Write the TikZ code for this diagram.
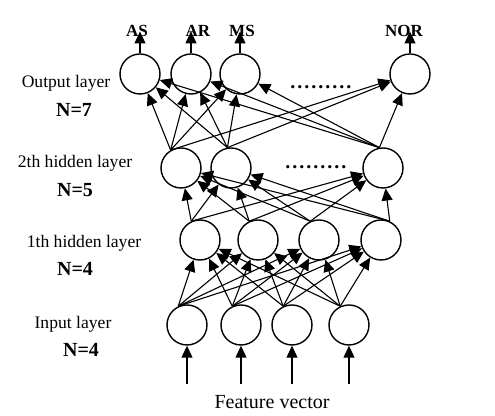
\documentclass[tikz,border=0pt]{standalone}
\usepackage{fontspec}
\setmainfont{Liberation Serif}
\usetikzlibrary{arrows.meta}
\tikzset{
  neuron/.style={circle, draw, line width=0.7pt, minimum size=20pt, inner sep=0pt},
  link/.style={-{Triangle[length=6pt,width=5.5pt]}, line width=0.55pt},
  layertext/.style={font=\fontsize{8.8}{10}\selectfont, anchor=base, inner sep=0pt},
  counttext/.style={font=\fontsize{10}{12}\selectfont\bfseries, anchor=base, inner sep=0pt},
  outtext/.style={font=\fontsize{8.5}{10}\selectfont\bfseries, anchor=base, inner sep=0pt},
  dottext/.style={font=\fontsize{10}{12}\selectfont\bfseries, anchor=base, inner sep=0pt},
}
\newcommand{\dotrow}{.\kern1pt.\kern1pt.\kern1pt.\kern1pt.\kern1pt.\kern1pt.\kern1pt.\kern1pt.}
\begin{document}
\begin{tikzpicture}[x=0.5pt, y=-0.5pt]
    \useasboundingbox (0,0) rectangle (495,416);

    % Input layer
    \node[neuron] (i1) at (187,325) {};
    \node[neuron] (i2) at (241,325) {};
    \node[neuron] (i3) at (292,325) {};
    \node[neuron] (i4) at (349,325) {};
    \node[layertext] (inlab) at (73,329) {Input layer};
    \node[counttext] (inn) at (81,357) {N=4};

    % 1th hidden layer
    \node[neuron] (h1) at (200,240) {};
    \node[neuron] (h2) at (258,240) {};
    \node[neuron] (h3) at (319,240) {};
    \node[neuron] (h4) at (381,240) {};
    \node[layertext] (h1lab) at (84,248) {1th hidden layer};
    \node[counttext] (h1n) at (75,276) {N=4};

    % 2th hidden layer
    \node[neuron] (g1) at (181,168) {};
    \node[neuron] (g2) at (231,168) {};
    \node[neuron] (g3) at (383,168) {};
    \node[dottext] (gdots) at (316,169) {\dotrow};
    \node[layertext] (h2lab) at (75,168) {2th hidden layer};
    \node[counttext] (h2n) at (75,197) {N=5};

    % Output layer
    \node[neuron] (o1) at (140,74) {};
    \node[neuron] (o2) at (191,74) {};
    \node[neuron] (o3) at (240,74) {};
    \node[neuron] (o4) at (410,74) {};
    \node[dottext] (odots) at (321,89) {\dotrow};
    \node[layertext] (olab) at (66,88) {Output layer};
    \node[counttext] (on) at (74,117) {N=7};

    % Output names
    \node[outtext] (as) at (137,37) {AS};
    \node[outtext] (ar) at (198,37) {AR};
    \node[outtext] (ms) at (242,37) {MS};
    \node[outtext] (nor) at (404,37) {NOR};
    \foreach \o/\t in {o1/as, o2/ar, o3/ms, o4/nor}
        \draw[link] (\o.north) -- (\o.north |- \t.center);

    % Feature vector inputs
    \node[layertext, font=\fontsize{10}{12}\selectfont] (feat) at (272,409) {Feature vector};
    \foreach \i/\x in {1/187, 2/241, 3/292, 4/349} {
        \coordinate (f\i) at (\x,384);
        \draw[link] (f\i) -- (i\i.south);
    }

    % Connections between layers
    \foreach \a in {1,...,4}
        \foreach \b in {1,...,4}
            \draw[link] (i\a.115) -- (h\b);
    \foreach \a/\ang in {1/115, 2/115, 3/115, 4/65}
        \foreach \b in {1,2,3}
            \draw[link] (h\a.\ang) -- (g\b);
    \foreach \a/\ang in {1/120, 2/100, 3/100}
        \foreach \b in {1,...,4}
            \draw[link] (g\a.\ang) -- (o\b);
\end{tikzpicture}
\end{document}
